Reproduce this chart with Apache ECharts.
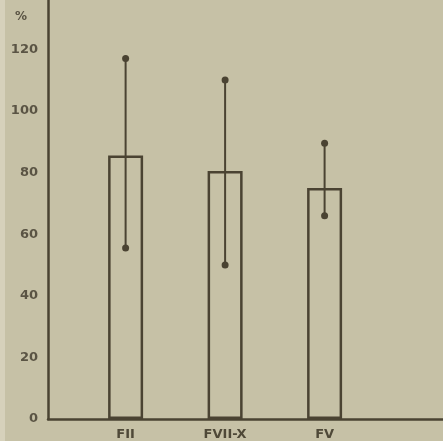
<!DOCTYPE html>
<html>
<head>
<meta charset="utf-8">
<script src="https://cdn.jsdelivr.net/npm/echarts@6/dist/echarts.min.js"></script>
<style>
  html, body { margin: 0; padding: 0; background: #c6c1a6; }
  #chart { width: 443px; height: 441px; }
</style>
</head>
<body>
<div id="chart"></div>
<script>
// datos
const categories = ["FII", "FVII-X", "FV"];
const means = [85.5, 80.5, 75];
const lower = [55.5, 50, 66];
const upper = [117, 110, 89.5];
const yTicks = [0, 20, 40, 60, 80, 100, 120];

const ink = "#4a4332";
const chart = echarts.init(document.getElementById("chart"));

chart.setOption({
  backgroundColor: "#c6c1a6",
  animation: false,
  grid: { left: 48, right: 0, top: 0, bottom: 18 },
  graphic: [
    { type: "rect", shape: { x: 0, y: 0, width: 5, height: 441 }, style: { fill: "#d6d1bb" } },
    {
      type: "text", left: 15, top: 11,
      style: { text: "%", fill: "#5a5444", font: "bold 12px 'DejaVu Sans'" }
    }
  ],
  xAxis: {
    type: "value",
    min: 0.22,
    max: 4.19,
    splitLine: { show: false },
    axisTick: { show: false },
    axisLine: { show: true, onZero: false, lineStyle: { color: ink, width: 2.5 } },
    axisLabel: {
      customValues: [1, 2, 3],
      formatter: function (v) { return categories[Math.round(v) - 1] || ""; },
      margin: 9,
      color: "#4f4938",
      fontSize: 13,
      fontWeight: "bold",
      fontFamily: "DejaVu Sans"
    }
  },
  yAxis: {
    type: "value",
    min: 0,
    max: 136,
    interval: 20,
    splitLine: { show: false },
    axisTick: { show: false },
    axisLine: { show: true, lineStyle: { color: ink, width: 2.5 } },
    axisLabel: {
      showMaxLabel: false,
      margin: 10,
      color: "#5a5444",
      fontSize: 13,
      fontWeight: "bold",
      fontFamily: "DejaVu Sans",
      formatter: function (v) { return yTicks.indexOf(v) >= 0 ? String(v) : ""; }
    }
  },
  series: [
    {
      type: "bar",
      barWidth: 35,
      data: means.map(function (m, i) { return [i + 1, m]; }),
      itemStyle: { color: "rgba(0,0,0,0)", borderColor: ink, borderWidth: 2.5 }
    },
    {
      type: "custom",
      data: lower.map(function (lo, i) { return [i + 1, lo, upper[i]]; }),
      renderItem: function (params, api) {
        const lo = api.coord([api.value(0), api.value(1)]);
        const hi = api.coord([api.value(0), api.value(2)]);
        return {
          type: "group",
          children: [
            { type: "line", shape: { x1: lo[0], y1: lo[1], x2: hi[0], y2: hi[1] },
              style: { stroke: ink, lineWidth: 2 } },
            { type: "circle", shape: { cx: hi[0], cy: hi[1], r: 3.5 }, style: { fill: ink } },
            { type: "circle", shape: { cx: lo[0], cy: lo[1], r: 3.5 }, style: { fill: ink } }
          ]
        };
      },
      z: 5
    }
  ]
});
</script>
</body>
</html>
